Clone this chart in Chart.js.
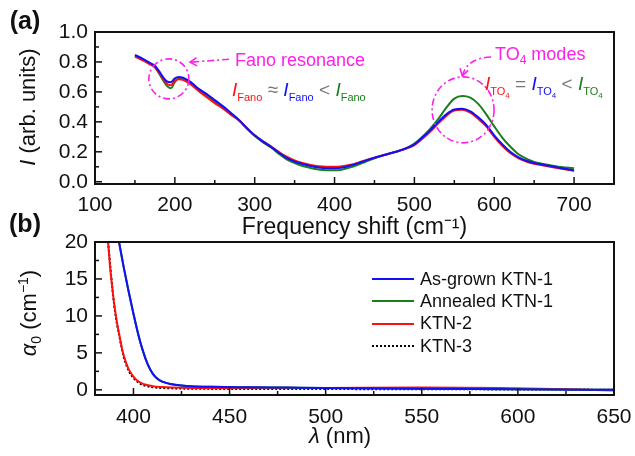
<!DOCTYPE html>
<html lang="en">
<head>
<meta charset="UTF-8">
<title>KTN | Raman spectra and absorption</title>
<script src="https://cdn.jsdelivr.net/npm/chart.js@4"></script>
<style>
  body { margin: 0; background: #fff; }
  .fig { position: relative; width: 635px; height: 456px; overflow: hidden;
         font-family: "Liberation Sans", Arial, sans-serif; color: #111; }
  canvas { position: absolute; left: 0; }
  #chartA { top: 0; }
  #chartB { top: 215px; }
  .t { position: absolute; white-space: nowrap; line-height: 1; }
  .c { transform: translate(-50%, -50%); }
  .rot { transform: translate(-50%, -50%) rotate(-90deg); }
  .panel { font-size: 25px; font-weight: bold; }
  .axt { font-size: 22px; }
  .axt sub, .axt sup { font-size: 14px; line-height: 0; }
  .mag { color: #ff1fe8; font-size: 18px; }
  .mag sub { font-size: 12px; vertical-align: -4px; line-height: 0; }
  .fml { font-size: 19px; }
  .fml sub { font-size: 11px; vertical-align: -5px; line-height: 0; }
  .fml sub sub { font-size: 8px; vertical-align: -3px; }
  .op { color: #777; }
  #legend { position: absolute; left: 372px; top: 268px; font-size: 18px; }
  #legend div { height: 22.3px; display: flex; align-items: center; }
  #legend .ln { display: inline-block; width: 42px; margin-right: 6px; }
</style>
</head>
<body>
<div class="fig">
  <canvas id="chartA" width="635" height="245"></canvas>
  <canvas id="chartB" width="635" height="241"></canvas>

  <div class="t panel c" style="left:25px; top:20px">(a)</div>
  <div class="t panel c" style="left:25px; top:223px">(b)</div>

  <div class="t axt rot" style="left:28px; top:107px"><i>I</i> (arb. units)</div>
  <div class="t axt rot" style="left:29px; top:313px"><i>α</i><sub>0</sub> (cm<sup>−1</sup>)</div>
  <div class="t axt c" style="left:340px; top:436px"><i>λ</i> (nm)</div>

  <div class="t mag" style="left:235px; top:51px">Fano resonance</div>
  <div class="t mag" style="left:495px; top:45px">TO<sub>4</sub> modes</div>

  <div class="t fml" style="left:232px; top:80px">
    <span style="color:#ff1010"><i>I</i><sub>Fano</sub></span><span class="op"> ≈ </span><span style="color:#1010ff"><i>I</i><sub>Fano</sub></span><span class="op"> &lt; </span><span style="color:#1a7f1a"><i>I</i><sub>Fano</sub></span>
  </div>
  <div class="t fml" style="left:485px; top:74px">
    <span style="color:#ff1010"><i>I</i><sub>TO<sub>4</sub></sub></span><span class="op"> = </span><span style="color:#1010ff"><i>I</i><sub>TO<sub>4</sub></sub></span><span class="op"> &lt; </span><span style="color:#1a7f1a"><i>I</i><sub>TO<sub>4</sub></sub></span>
  </div>

  <div id="legend"></div>
</div>

<script>
  // (a) Raman spectra
  const ramanShift = [150, 160, 170, 175, 180, 185, 190, 195, 200, 205, 210, 220, 230, 240, 250, 260, 270, 280, 290, 300,
    310, 320, 330, 340, 350, 360, 370, 380, 390, 400, 410, 420, 430, 440, 450, 460, 470, 480, 490, 500,
    510, 520, 530, 540, 550, 560, 570, 580, 590, 600, 610, 620, 630, 640, 650, 660, 670, 680, 690, 700];
  const ramanAsGrown = [0.847, 0.82, 0.79, 0.775, 0.74, 0.70, 0.67, 0.665, 0.69, 0.70, 0.695, 0.665, 0.62, 0.585, 0.545, 0.505, 0.46, 0.415, 0.36, 0.31,
    0.27, 0.235, 0.195, 0.16, 0.135, 0.118, 0.105, 0.095, 0.091, 0.091, 0.095, 0.108, 0.125, 0.143, 0.16, 0.175, 0.19, 0.205, 0.225, 0.25,
    0.295, 0.345, 0.40, 0.45, 0.482, 0.487, 0.47, 0.43, 0.38, 0.31, 0.25, 0.20, 0.165, 0.14, 0.125, 0.115, 0.105, 0.095, 0.085, 0.075];
  const ramanAnnealed = [0.84, 0.815, 0.785, 0.765, 0.725, 0.68, 0.64, 0.625, 0.665, 0.69, 0.685, 0.655, 0.61, 0.575, 0.535, 0.495, 0.45, 0.41, 0.355, 0.305,
    0.265, 0.23, 0.188, 0.15, 0.125, 0.105, 0.092, 0.082, 0.077, 0.076, 0.082, 0.096, 0.115, 0.137, 0.157, 0.175, 0.19, 0.205, 0.225, 0.255,
    0.30, 0.355, 0.42, 0.495, 0.555, 0.572, 0.562, 0.52, 0.45, 0.37, 0.295, 0.235, 0.185, 0.155, 0.133, 0.12, 0.11, 0.10, 0.095, 0.09];
  const ramanKTN2 = [0.835, 0.81, 0.78, 0.765, 0.73, 0.69, 0.655, 0.645, 0.675, 0.685, 0.68, 0.65, 0.605, 0.565, 0.525, 0.49, 0.45, 0.41, 0.36, 0.31,
    0.272, 0.238, 0.20, 0.167, 0.142, 0.125, 0.112, 0.103, 0.10, 0.10, 0.104, 0.113, 0.128, 0.145, 0.16, 0.175, 0.19, 0.205, 0.222, 0.245,
    0.287, 0.335, 0.39, 0.44, 0.475, 0.48, 0.462, 0.42, 0.37, 0.30, 0.24, 0.192, 0.158, 0.135, 0.12, 0.11, 0.10, 0.09, 0.082, 0.073];
  const xTicksA = [100, 200, 300, 400, 500, 600, 700];
  const yTicksA = [0, 0.2, 0.4, 0.6, 0.8, 1.0];

  // (b) absorption coefficient
  const lamAsGrown = [392.5, 395, 397.5, 400, 402.5, 405, 407.5, 410, 412.5, 415, 420, 425, 430, 440, 460, 480, 500, 550, 600, 650];
  const alphaAsGrown = [20, 16.5, 13.3, 10.3, 7.5, 5.2, 3.4, 2.2, 1.5, 1.1, 0.75, 0.6, 0.5, 0.42, 0.35, 0.3, 0.25, 0.15, 0.08, 0.0];
  const lamAnnealed = [392.5, 395, 397.5, 400, 402.5, 405, 407.5, 410, 412.5, 415, 420, 425, 430, 440, 460, 480, 500, 550, 600, 650];
  const alphaAnnealed = [20, 16.5, 13.3, 10.3, 7.5, 5.2, 3.4, 2.2, 1.5, 1.1, 0.75, 0.6, 0.5, 0.42, 0.35, 0.3, 0.25, 0.15, 0.08, 0.0];
  const lamKTN2 = [386.8, 388, 389, 390, 391.5, 393, 394, 395, 397.5, 400, 402.5, 405, 410, 415, 420, 450, 500, 550, 590, 620, 650];
  const alphaKTN2 = [20, 16.2, 13.8, 11.6, 9.0, 7.0, 5.6, 4.6, 2.8, 1.8, 1.15, 0.8, 0.5, 0.38, 0.32, 0.25, 0.26, 0.3, 0.25, 0.1, -0.1];
  const lamKTN3 = [386.8, 390, 393, 395, 397.5, 400, 402.5, 405, 410, 420, 450, 500, 550, 600, 650];
  const alphaKTN3 = [20, 11.4, 6.8, 4.4, 2.6, 1.6, 1.0, 0.65, 0.35, 0.2, 0.12, 0.1, 0.08, 0.05, 0.02];
  const xTicksB = [400, 450, 500, 550, 600, 650];
  const yTicksB = [0, 5, 10, 15, 20];

  const BLUE = '#1010ff', GREEN = '#1a7f1a', RED = '#ff1010', MAGENTA = '#ff1fe8';
  const FAMILY = '"Liberation Sans", Arial, sans-serif';

  // annotation anchors in data units (radii in px)
  const fanoRing = { x: 192.5, y: 0.687, rx: 20, ry: 20 };
  const to4Ring = { x: 561, y: 0.48, rx: 31, ry: 33 };
  const fanoArrow = { from: { x: 268, y: 0.818 }, to: { x: 219, y: 0.798 } };
  const to4Arrow = { from: { x: 596, y: 0.833 }, ctrl: { x: 566, y: 0.827 }, to: { x: 560, y: 0.707 } };

  function pts(xs, ys) {
    return xs.map((x, i) => ({ x: x, y: ys[i] }));
  }

  function line(label, xs, ys, color, dash) {
    return {
      label: label,
      data: pts(xs, ys),
      borderColor: color,
      borderWidth: 2,
      borderDash: dash || [],
      pointRadius: 0,
      cubicInterpolationMode: 'monotone',
      fill: false
    };
  }

  // box frame + inward ticks
  const frameTicks = {
    id: 'frameTicks',
    afterDatasetsDraw(chart, args, opts) {
      const { ctx, chartArea: a, scales: { x, y } } = chart;
      ctx.save();
      ctx.strokeStyle = '#111';
      ctx.lineWidth = 1.5;
      const marks = (scale, step, labels, horiz) => {
        for (let i = Math.ceil(scale.min / step - 1e-9); i * step <= scale.max + 1e-9; i++) {
          const v = i * step;
          const p = scale.getPixelForValue(v);
          const len = labels.some(l => Math.abs(l - v) < 1e-6) ? 7 : 4;
          if (horiz) {
            if (p < a.left + 2 || p > a.right - 2) continue;
            ctx.beginPath(); ctx.moveTo(p, a.bottom); ctx.lineTo(p, a.bottom - len); ctx.stroke();
          } else {
            if (p > a.bottom - 2 || p < a.top + 2) continue;
            ctx.beginPath(); ctx.moveTo(a.left, p); ctx.lineTo(a.left + len, p); ctx.stroke();
          }
        }
      };
      marks(x, opts.xStep, opts.xLabels, true);
      marks(y, opts.yStep, opts.yLabels, false);
      ctx.lineWidth = 2;
      ctx.strokeRect(a.left, a.top, a.width, a.height);
      ctx.restore();
    }
  };

  function arrowHead(ctx, tx, ty, fx, fy, len) {
    const ang = Math.atan2(ty - fy, tx - fx);
    ctx.setLineDash([]);
    ctx.beginPath();
    ctx.moveTo(tx - len * Math.cos(ang - 0.55), ty - len * Math.sin(ang - 0.55));
    ctx.lineTo(tx, ty);
    ctx.lineTo(tx - len * Math.cos(ang + 0.55), ty - len * Math.sin(ang + 0.55));
    ctx.stroke();
  }

  // dash-dot rings and arrows of panel (a)
  const ramanMarks = {
    id: 'ramanMarks',
    afterDatasetsDraw(chart) {
      const { ctx, scales: { x, y } } = chart;
      const px = p => [x.getPixelForValue(p.x), y.getPixelForValue(p.y)];
      ctx.save();
      ctx.strokeStyle = MAGENTA;
      ctx.lineWidth = 1.6;
      for (const r of [fanoRing, to4Ring]) {
        const [cx, cy] = px(r);
        ctx.setLineDash([7, 3, 2, 3]);
        ctx.beginPath();
        ctx.ellipse(cx, cy, r.rx, r.ry, 0, 0, 2 * Math.PI);
        ctx.stroke();
      }
      let [fx, fy] = px(fanoArrow.from), [tx, ty] = px(fanoArrow.to);
      ctx.setLineDash([7, 3, 2, 3]);
      ctx.beginPath(); ctx.moveTo(fx, fy); ctx.lineTo(tx, ty); ctx.stroke();
      arrowHead(ctx, tx, ty, fx, fy, 8);

      const [sx, sy] = px(to4Arrow.from), [qx, qy] = px(to4Arrow.ctrl), [ex, ey] = px(to4Arrow.to);
      ctx.setLineDash([7, 3, 2, 3]);
      ctx.beginPath(); ctx.moveTo(sx, sy); ctx.quadraticCurveTo(qx, qy, ex, ey); ctx.stroke();
      arrowHead(ctx, ex, ey, qx, qy, 8);
      ctx.restore();
    }
  };

  const tickFont = { family: FAMILY, size: 21 };

  function axes(xMin, xMax, xLabels, yMin, yMax, yLabels, yFmt, xPad, xTitle) {
    return {
      x: {
        type: 'linear', min: xMin, max: xMax,
        grid: { display: false, drawTicks: false }, border: { display: false },
        afterBuildTicks: s => { s.ticks = xLabels.map(v => ({ value: v })); },
        afterFit: s => { s.height = 61; s.paddingLeft = 0; s.paddingRight = 0; },
        ticks: { font: tickFont, color: '#111', padding: xPad, maxRotation: 0, autoSkip: false },
        title: xTitle ? { display: true, text: xTitle, font: { family: FAMILY, size: 23 }, color: '#111', padding: { top: 0, bottom: 4 } } : { display: false }
      },
      y: {
        min: yMin, max: yMax,
        grid: { display: false, drawTicks: false }, border: { display: false },
        afterBuildTicks: s => { s.ticks = yLabels.map(v => ({ value: v })); },
        afterFit: s => { s.width = 95; },
        ticks: { font: tickFont, color: '#111', padding: 7, callback: yFmt }
      }
    };
  }

  new Chart(document.getElementById('chartA'), {
    type: 'line',
    data: {
      datasets: [
        line('As-grown KTN-1', ramanShift, ramanAsGrown, BLUE),
        line('KTN-2', ramanShift, ramanKTN2, RED),
        line('Annealed KTN-1', ramanShift, ramanAnnealed, GREEN)
      ]
    },
    options: {
      responsive: false, animation: false, events: [],
      layout: { padding: { top: 32, right: 21, left: 0, bottom: 0 } },
      plugins: {
        legend: { display: false }, tooltip: { enabled: false },
        frameTicks: { xStep: 50, yStep: 0.1, xLabels: xTicksA, yLabels: yTicksA }
      },
      scales: axes(100, 750, xTicksA, -0.015, 1.0, yTicksA, v => v.toFixed(1), 9, 'Frequency shift (cm⁻¹)')
    },
    plugins: [frameTicks, ramanMarks]
  });

  const chartB = new Chart(document.getElementById('chartB'), {
    type: 'line',
    data: {
      datasets: [
        line('As-grown KTN-1', lamAsGrown, alphaAsGrown, BLUE),
        line('Annealed KTN-1', lamAnnealed, alphaAnnealed, GREEN),
        line('KTN-2', lamKTN2, alphaKTN2, RED),
        line('KTN-3', lamKTN3, alphaKTN3, '#000', [2, 2])
      ]
    },
    options: {
      responsive: false, animation: false, events: [],
      layout: { padding: { top: 27, right: 21, left: 0, bottom: 0 } },
      plugins: {
        legend: { display: false }, tooltip: { enabled: false },
        frameTicks: { xStep: 25, yStep: 2.5, xLabels: xTicksB, yLabels: yTicksB }
      },
      scales: axes(380, 650, xTicksB, -0.7, 20, yTicksB, v => String(v), 10, null)
    },
    plugins: [frameTicks]
  });

  // legend of panel (b), built from the datasets
  const legend = document.getElementById('legend');
  chartB.data.datasets.forEach(ds => {
    const row = document.createElement('div');
    const ln = document.createElement('span');
    ln.className = 'ln';
    ln.style.borderTop = '2px ' + (ds.borderDash.length ? 'dotted' : 'solid') + ' ' + ds.borderColor;
    row.appendChild(ln);
    row.appendChild(document.createTextNode(ds.label));
    legend.appendChild(row);
  });
</script>
</body>
</html>
